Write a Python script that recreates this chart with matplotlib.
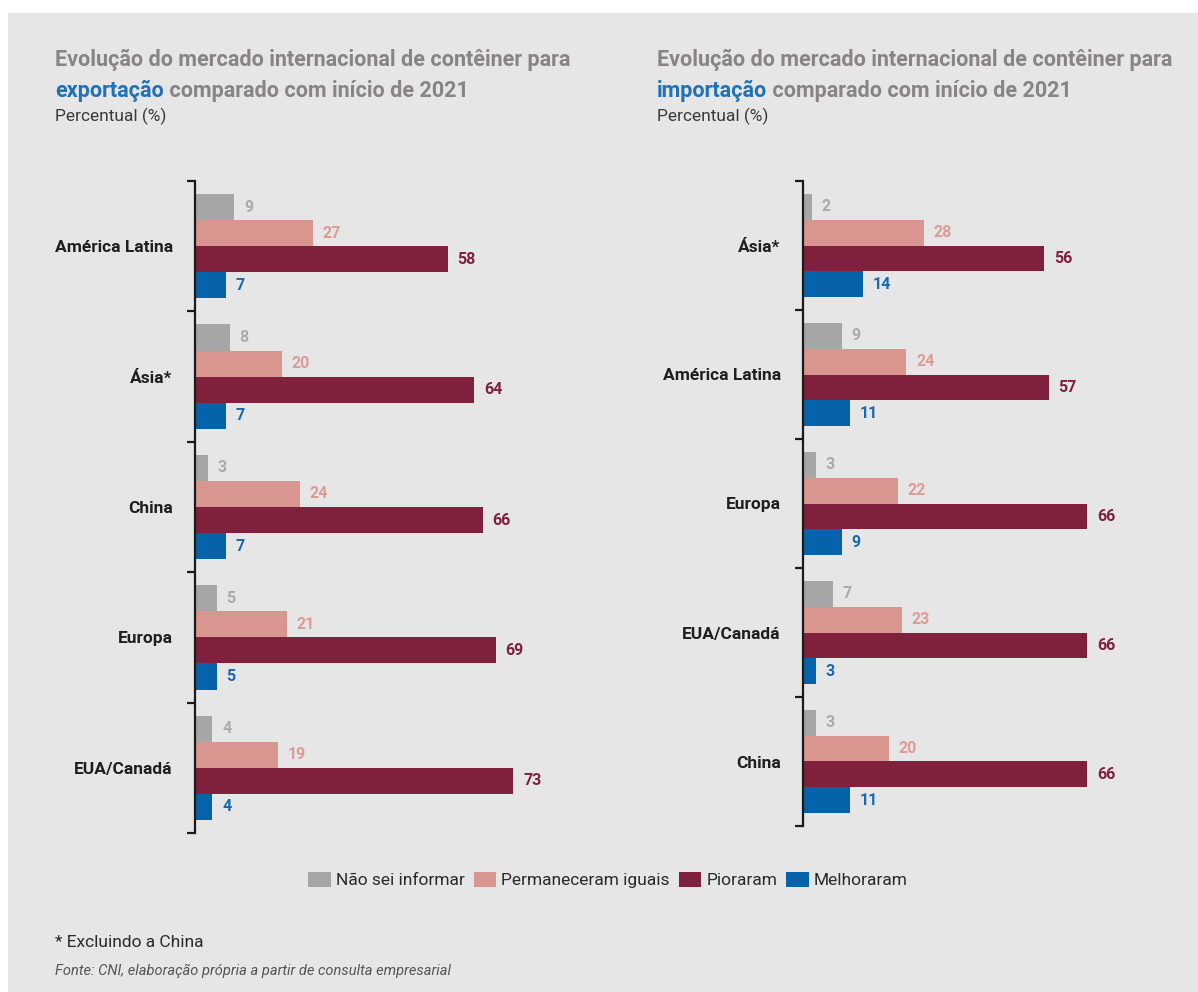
import matplotlib
matplotlib.use("Agg")
import matplotlib.pyplot as plt
from matplotlib.patches import Rectangle, Patch
from matplotlib.ticker import FixedLocator
import numpy as np

plt.rcParams['font.family'] = ['Roboto', 'DejaVu Sans']

# Data
series = ["Não sei informar", "Permaneceram iguais", "Pioraram", "Melhoraram"]

exp_regions = ["América Latina", "Ásia*", "China", "Europa", "EUA/Canadá"]
exp_nao_sei = [9, 8, 3, 5, 4]
exp_iguais = [27, 20, 24, 21, 19]
exp_pioraram = [58, 64, 66, 69, 73]
exp_melhoraram = [7, 7, 7, 5, 4]

imp_regions = ["Ásia*", "América Latina", "Europa", "EUA/Canadá", "China"]
imp_nao_sei = [2, 9, 3, 7, 3]
imp_iguais = [28, 24, 22, 23, 20]
imp_pioraram = [56, 57, 66, 66, 66]
imp_melhoraram = [14, 11, 9, 3, 11]

bar_colors = ["#a6a6a6", "#d9958f", "#7f203d", "#0663aa"]
label_colors = ["#ababab", "#dd9b95", "#7f203d", "#1a68ad"]
title_gray = "#878387"
blue_word = "#1f72b8"
bg = "#e6e6e6"

W, H = 1198, 992
fig = plt.figure(figsize=(W / 100, H / 100), dpi=100, facecolor="white")
fig.add_artist(Rectangle((8 / W, 0), 1 - 8 / W, 1 - 13 / H,
                         transform=fig.transFigure, facecolor=bg,
                         edgecolor="none", zorder=-10))


def panel(x0, top, bottom, px_per_unit, regions, values):
    xmax = 80
    ax = fig.add_axes([x0 / W, 1 - bottom / H, px_per_unit * xmax / W,
                       (bottom - top) / H])
    ax.set_facecolor("none")
    n = len(regions)
    y = np.arange(n)
    h = 0.2
    offsets = [-1.5 * h, -0.5 * h, 0.5 * h, 1.5 * h]
    for vals, off, col, lcol in zip(values, offsets, bar_colors, label_colors):
        bars = ax.barh(y + off, vals, height=h, color=col, edgecolor="none")
        for b, v in zip(bars, vals):
            ax.annotate(str(v), (b.get_width(), b.get_y() + b.get_height() / 2),
                        xytext=(7, 0), textcoords="offset points",
                        ha="left", va="center", fontsize=11.5,
                        fontweight="bold", color=lcol)
    ax.set_xlim(0, xmax)
    ax.set_ylim(n - 0.5, -0.5)
    for s in ["top", "right", "bottom"]:
        ax.spines[s].set_visible(False)
    ax.spines["left"].set_linewidth(1.6)
    ax.spines["left"].set_color("#1a1a1a")
    ax.set_xticks([])
    ax.set_yticks(y)
    ax.set_yticklabels(regions, fontsize=12.5, fontweight="bold", color="#1f1f1f")
    ax.tick_params(axis="y", which="major", length=0, pad=16)
    ax.yaxis.set_minor_locator(FixedLocator(np.arange(-0.5, n, 1.0)))
    ax.tick_params(axis="y", which="minor", length=6, width=1.6,
                   color="#1a1a1a", direction="out")
    return ax


ax1 = panel(195, 181, 833, 4.36, exp_regions,
            [exp_nao_sei, exp_iguais, exp_pioraram, exp_melhoraram])
ax2 = panel(803, 181, 826, 4.31, imp_regions,
            [imp_nao_sei, imp_iguais, imp_pioraram, imp_melhoraram])


def titles(ax, x, word):
    fig.text(x / W, 1 - 66 / H,
             "Evolução do mercado internacional de contêiner para",
             fontsize=15.5, fontweight="bold", color=title_gray,
             ha="left", va="baseline")
    t = fig.text(x / W, 1 - 97 / H, word, fontsize=15.5, fontweight="bold",
                 color=blue_word, ha="left", va="baseline")
    ax.annotate(" comparado com início de 2021", xy=(1, 0), xycoords=t,
                fontsize=15.5, fontweight="bold", color=title_gray,
                ha="left", va="bottom", annotation_clip=False)
    fig.text(x / W, 1 - 121 / H, "Percentual (%)", fontsize=12.5,
             color="#3a3a3a", ha="left", va="baseline")


titles(ax1, 55, "exportação")
titles(ax2, 657, "importação")

handles = [Patch(facecolor=c, edgecolor="none") for c in bar_colors]
fig.legend(handles, series, loc="center", bbox_to_anchor=(608 / W, 1 - 880 / H),
           ncol=4, frameon=False, fontsize=12.5, handlelength=1.3,
           handleheight=1.0, handletextpad=0.3, columnspacing=0.5,
           labelcolor="#2a2a2a")

fig.text(55 / W, 1 - 947 / H, "* Excluindo a China", fontsize=12.5,
         color="#2a2a2a", ha="left", va="baseline")
fig.text(55 / W, 1 - 975 / H,
         "Fonte: CNI, elaboração própria a partir de consulta empresarial",
         fontsize=10.5, style="italic", color="#555555", ha="left",
         va="baseline")

fig.savefig("out.png", dpi=100, facecolor=fig.get_facecolor())
